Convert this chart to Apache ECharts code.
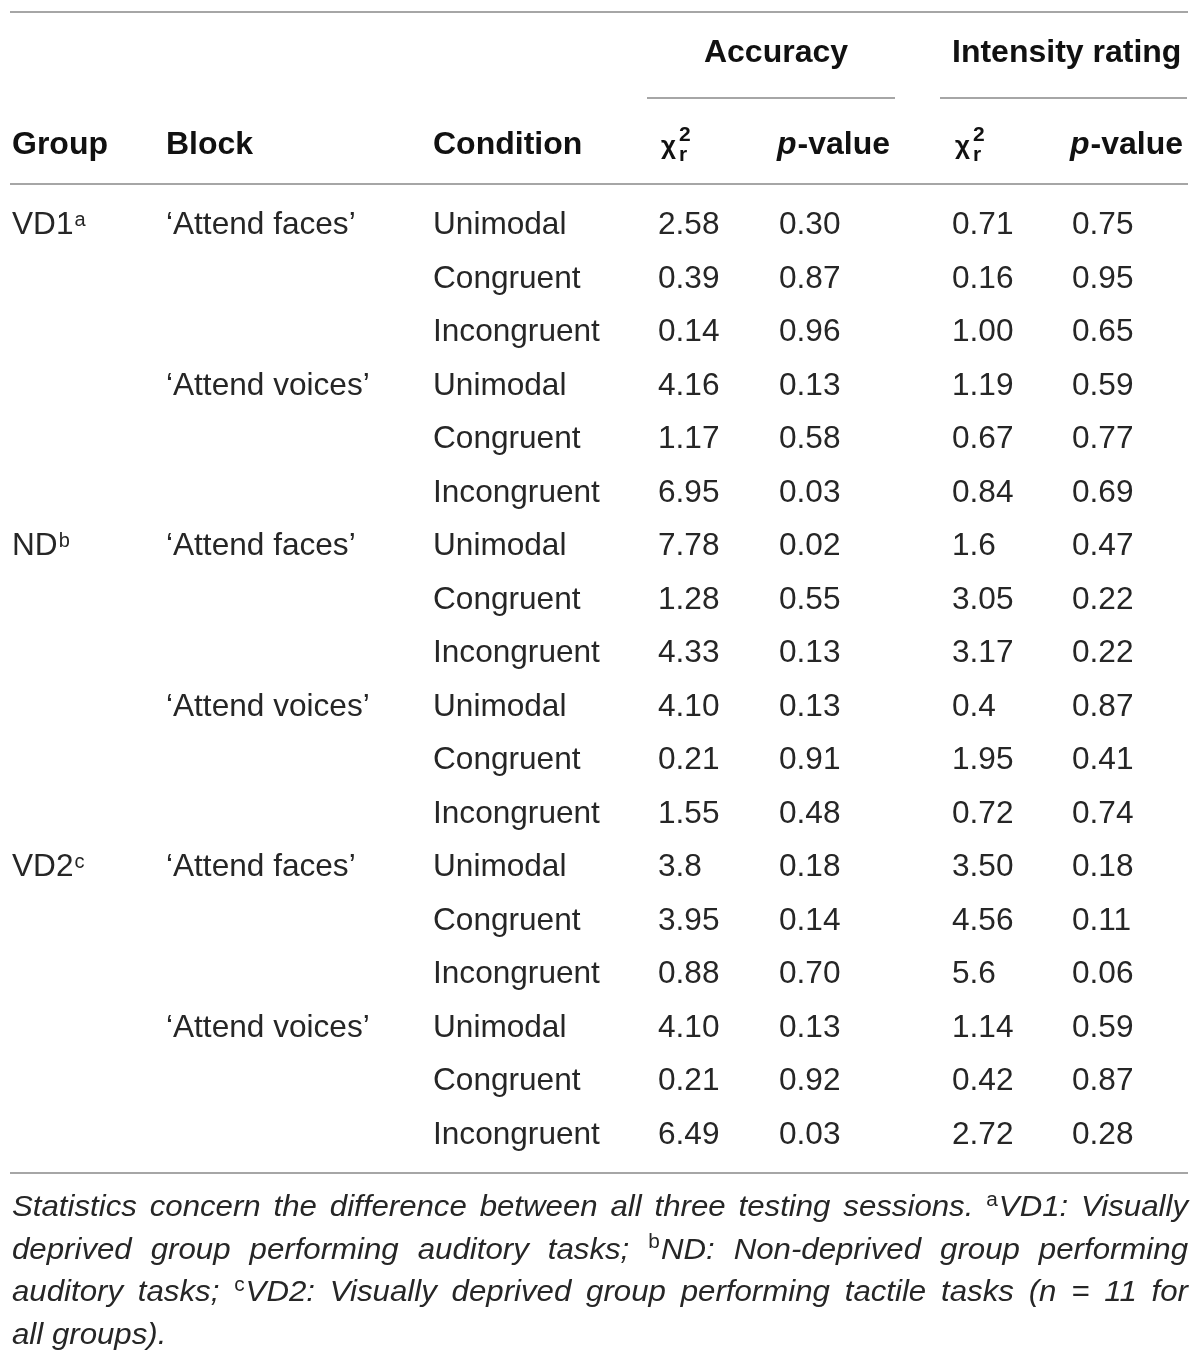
<!DOCTYPE html>
<html><head><meta charset="utf-8">
<script src="https://cdn.jsdelivr.net/npm/echarts@6/dist/echarts.min.js"></script>
<style>html,body{margin:0;padding:0;background:#fff}#c{width:1200px;height:1364px}</style>
</head><body><div id="c"></div>
<script>
// ---- data ----
const groups = ['VD1', 'ND', 'VD2'];
const groupNotes = ['a', 'b', 'c'];
const blocks = ['\u2018Attend faces\u2019', '\u2018Attend voices\u2019'];
const conditions = ['Unimodal', 'Congruent', 'Incongruent'];
const accuracyChi = ['2.58','0.39','0.14','4.16','1.17','6.95','7.78','1.28','4.33','4.10','0.21','1.55','3.8','3.95','0.88','4.10','0.21','6.49'];
const accuracyP = ['0.30','0.87','0.96','0.13','0.58','0.03','0.02','0.55','0.13','0.13','0.91','0.48','0.18','0.14','0.70','0.13','0.92','0.03'];
const intensityChi = ['0.71','0.16','1.00','1.19','0.67','0.84','1.6','3.05','3.17','0.4','1.95','0.72','3.50','4.56','5.6','1.14','0.42','2.72'];
const intensityP = ['0.75','0.95','0.65','0.59','0.77','0.69','0.47','0.22','0.22','0.87','0.41','0.74','0.18','0.11','0.06','0.59','0.87','0.28'];
const headerTop = ['Accuracy', 'Intensity rating'];
const headerCols = ['Group', 'Block', 'Condition'];
const footnoteLines = [
  [['Statistics'],['concern'],['the'],['difference'],['between'],['all'],['three'],['testing'],['sessions.'],['VD1:','a'],['Visually']],
  [['deprived'],['group'],['performing'],['auditory'],['tasks;'],['ND:','b'],['Non-deprived'],['group'],['performing']],
  [['auditory'],['tasks;'],['VD2:','c'],['Visually'],['deprived'],['group'],['performing'],['tactile'],['tasks'],['(n'],['='],['11'],['for']],
  [['all'],['groups).']]
];

// ---- layout / style ----
const INK = '#262626';
const HEAD = '#111';
const RULE = '#a6a6a6';
const FF = "'Liberation Sans', Arial, Helvetica, sans-serif";
const BODY_FONT = '31.6px ' + FF;
const SUP_FONT = '20px ' + FF;
const BOLD_FONT = 'bold 32px ' + FF;
const BOLD_IT_FONT = 'italic bold 32px ' + FF;
const CHI_FONT = 'bold 26px ' + FF;
const SUB_FONT = 'bold 21px ' + FF;
const FOOT_FONT = 'italic 30px ' + FF;
const FOOT_SUP = '20px ' + FF;
const FOOT_SCALE = 1.04;
const COL_X = [12, 166, 433, 658, 779, 952, 1072];
const BODY_SHIFT = 1;

const ctx = document.createElement('canvas').getContext('2d');
function measure(t, font) { ctx.font = font; return ctx.measureText(t).width; }

// ---- build cells ----
const cells = [];
let r = 0;
for (let g = 0; g < groups.length; g++) {
  for (let b = 0; b < blocks.length; b++) {
    for (let c = 0; c < conditions.length; c++) {
      if (b === 0 && c === 0) cells.push({ row: r, col: 0, text: groups[g], sup: groupNotes[g] });
      if (c === 0) cells.push({ row: r, col: 1, text: blocks[b] });
      cells.push({ row: r, col: 2, text: conditions[c] });
      cells.push({ row: r, col: 3, text: accuracyChi[r] });
      cells.push({ row: r, col: 4, text: accuracyP[r] });
      cells.push({ row: r, col: 5, text: intensityChi[r] });
      cells.push({ row: r, col: 6, text: intensityP[r] });
      r++;
    }
  }
}
const rowNames = accuracyChi.map((_, i) => 'r' + i);

// ---- graphic: rules, headers, footnote ----
const graphics = [];
function rule(x1, x2, y) {
  graphics.push({ type: 'line', shape: { x1, y1: y, x2, y2: y }, style: { stroke: RULE, lineWidth: 2 }, silent: true });
}
rule(10, 1188, 12);
rule(647, 895, 98);
rule(940, 1187, 98);
rule(10, 1188, 184);
rule(10, 1188, 1173);

function txt(text, x, y, font, fill, align) {
  graphics.push({ type: 'text', style: { text, x, y, font, fill: fill || HEAD, align: align || 'left', verticalAlign: 'middle' }, silent: true });
}
txt(headerTop[0], 776, 53, BOLD_FONT, HEAD, 'center');
txt(headerTop[1], 952, 53, BOLD_FONT, HEAD, 'left');
const H2 = 145;
headerCols.forEach((h, i) => txt(h, COL_X[i], H2, BOLD_FONT, HEAD));
function chiHeader(x) {
  txt('\u03c7', x, H2 + 2, CHI_FONT, HEAD);
  const w = measure('\u03c7', CHI_FONT);
  txt('2', x + w + 3, H2 - 9.5, SUB_FONT, HEAD);
  txt('r', x + w + 3, H2 + 10.5, SUB_FONT, HEAD);
}
function pHeader(x) {
  txt('p', x, H2, BOLD_IT_FONT, HEAD);
  txt('-value', x + measure('p', BOLD_IT_FONT) + 1, H2, BOLD_FONT, HEAD);
}
chiHeader(661); pHeader(777);
chiHeader(955); pHeader(1070);

// footnote, justified
const FOOT_LEFT = 12, FOOT_RIGHT = 1188, FOOT_Y0 = 1208, FOOT_LH = 42.5;
footnoteLines.forEach((words, li) => {
  const widths = words.map(w => (w[1] ? measure(w[1], FOOT_SUP) + 1 : 0) + measure(w[0], FOOT_FONT));
  const sum = widths.reduce((a, b) => a + b, 0) * FOOT_SCALE;
  const last = li === footnoteLines.length - 1;
  const gap = last ? measure(' ', FOOT_FONT) * FOOT_SCALE : (FOOT_RIGHT - FOOT_LEFT - sum) / (words.length - 1);
  let x = FOOT_LEFT;
  const y = FOOT_Y0 + li * FOOT_LH;
  words.forEach((w, wi) => {
    let off = 0;
    if (w[1]) {
      graphics.push({ type: 'text', x, y, scaleX: FOOT_SCALE, style: { text: w[1], x: 0, y: -8, font: FOOT_SUP, fill: INK, verticalAlign: 'middle' }, silent: true });
      off = (measure(w[1], FOOT_SUP) + 1) * FOOT_SCALE;
    }
    graphics.push({ type: 'text', x: x + off, y, scaleX: FOOT_SCALE, style: { text: w[0], x: 0, y: 0, font: FOOT_FONT, fill: INK, verticalAlign: 'middle' }, silent: true });
    x += widths[wi] * FOOT_SCALE + gap;
  });
});

// ---- chart ----
const chart = echarts.init(document.getElementById('c'), null, { renderer: 'canvas' });
chart.setOption({
  backgroundColor: '#ffffff',
  animation: false,
  grid: { left: 0, right: 0, top: 198, height: 963 },
  xAxis: { type: 'value', min: 0, max: 1200, show: false },
  yAxis: { type: 'category', data: rowNames, inverse: true, show: false },
  graphic: graphics,
  series: [{
    type: 'custom',
    coordinateSystem: 'cartesian2d',
    encode: { x: 0, y: 1 },
    data: cells.map(c => [0, c.row, c.col]),
    renderItem: function (params, api) {
      const cell = cells[params.dataIndex];
      const y = api.coord([0, api.value(1)])[1] + BODY_SHIFT;
      const x = COL_X[cell.col];
      const children = [{ type: 'text', style: { text: cell.text, x, y, font: BODY_FONT, fill: INK, align: 'left', verticalAlign: 'middle' } }];
      if (cell.sup) {
        children.push({ type: 'text', style: { text: cell.sup, x: x + measure(cell.text, BODY_FONT) + 1, y: y - 5, font: SUP_FONT, fill: INK, align: 'left', verticalAlign: 'middle' } });
      }
      return { type: 'group', children };
    }
  }]
});
</script>
</body></html>
